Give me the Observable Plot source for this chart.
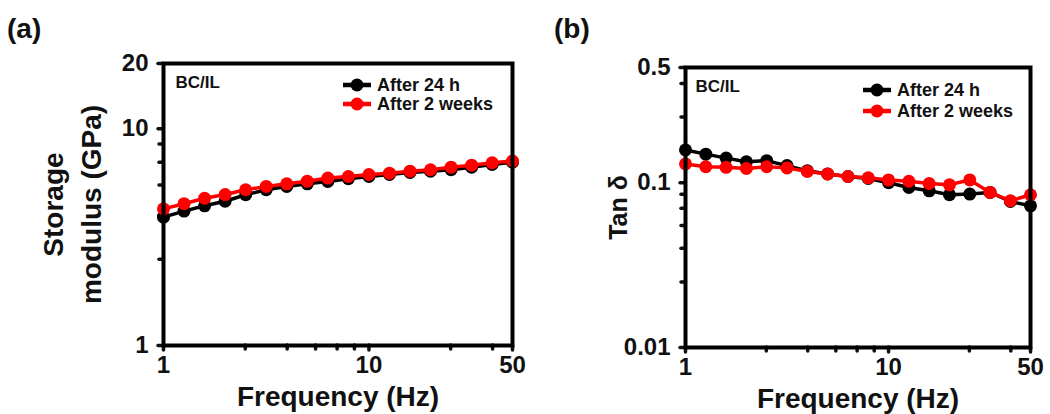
<!DOCTYPE html>
<html>
<head>
<meta charset="utf-8">
<script src="https://cdn.jsdelivr.net/npm/d3@7"></script>
<script src="https://cdn.jsdelivr.net/npm/@observablehq/plot@0.6"></script>
<style>
  body { margin: 0; background: #fff; font-family: "Liberation Sans", Arial, sans-serif; font-weight: bold; color: #111; }
  #wrap { position: relative; width: 1050px; height: 414px; overflow: hidden; }
  .panel { position: absolute; top: 0; }
  .tag { position: absolute; font-size: 28px; font-weight: bold; line-height: 1; color: #111; }
  .leg { position: absolute; font-size: 18px; font-weight: bold; line-height: 1; display: flex; align-items: center; white-space: nowrap; }
  .leg svg { margin-right: 6px; }
</style>
</head>
<body>
<div id="wrap">
  <div class="tag" style="left:7px; top:15px;">(a)</div>
  <div class="tag" style="left:554px; top:15px;">(b)</div>
  <div id="pa" class="panel" style="left:0px;"></div>
  <div id="pb" class="panel" style="left:525px;"></div>
</div>
<script>
// ---- data ----
const freq = [1, 1.259, 1.585, 1.995, 2.512, 3.162, 3.981, 5.012, 6.310, 7.943, 10, 12.59, 15.85, 19.95, 25.12, 31.62, 39.81, 50];
const storage24h = [3.91, 4.17, 4.41, 4.63, 4.96, 5.23, 5.42, 5.57, 5.71, 5.88, 6.02, 6.15, 6.29, 6.37, 6.47, 6.65, 6.84, 7.01];
const storage2w  = [4.27, 4.51, 4.78, 4.97, 5.23, 5.42, 5.57, 5.73, 5.92, 6.02, 6.15, 6.24, 6.37, 6.47, 6.65, 6.79, 6.97, 7.09];
const tan24h = [0.158, 0.149, 0.141, 0.134, 0.136, 0.127, 0.118, 0.113, 0.109, 0.106, 0.100, 0.0935, 0.0893, 0.0845, 0.0853, 0.0873, 0.0769, 0.0724];
const tan2w  = [0.130, 0.125, 0.124, 0.122, 0.125, 0.123, 0.117, 0.113, 0.109, 0.107, 0.104, 0.102, 0.0989, 0.0971, 0.104, 0.0873, 0.0777, 0.0845];
const seriesNames = ["After 24 h", "After 2 weeks"];
const seriesColors = ["#000000", "#ff0000"];
const xMajor = [1, 10, 50];
const xMinor = [2.5, 4, 5.5, 7, 8.5, 25, 40];
const yMajorA = [1, 10, 20];
const yMinorA = [2.5, 4, 5.5, 7, 8.5];
const yMajorB = [0.01, 0.1, 0.5];
const yMinorB = [0.025, 0.04, 0.055, 0.07, 0.085, 0.25, 0.4];
const sampleLabel = "BC/IL";

function rows(ys, name) { return freq.map((f, i) => ({f, v: ys[i], s: name})); }

const font = {fontFamily: "'Liberation Sans', Arial, sans-serif", fontWeight: "bold", overflow: "visible", background: "transparent", color: "#111"};

function panel(opts) {
  const {yDomain, yMajor, yMinor, s24, s2w, ylabel, ylabelDx, ylabelSize, margins, labelDx, labelDy} = opts;
  const d24 = rows(s24, seriesNames[0]);
  const d2w = rows(s2w, seriesNames[1]);
  return Plot.plot({
    width: 525, height: 414,
    ...margins,
    style: font,
    x: {type: "log", domain: [1, 50]},
    y: {type: "log", domain: yDomain},
    marks: [
      Plot.axisX({ticks: xMajor, tickFormat: d => String(d), tickSize: 5, tickPadding: 5, fontSize: 24, strokeWidth: 3.5, strokeLinecap: "round", label: null}),
      Plot.axisX({ticks: xMinor, tickFormat: () => "", tickSize: 4, strokeWidth: 3.5, strokeLinecap: "round", label: null}),
      Plot.axisY({ticks: yMajor, tickFormat: d => String(d), tickSize: 5, tickPadding: 10, fontSize: 24, strokeWidth: 3.5, strokeLinecap: "round", label: null}),
      Plot.axisY({ticks: yMinor, tickFormat: () => "", tickSize: 4, strokeWidth: 3.5, strokeLinecap: "round", label: null}),
      Plot.line(d24, {x: "f", y: "v", stroke: seriesColors[0], strokeWidth: 3.5}),
      Plot.dot(d24, {x: "f", y: "v", fill: seriesColors[0], r: 6.5}),
      Plot.line(d2w, {x: "f", y: "v", stroke: seriesColors[1], strokeWidth: 3.5}),
      Plot.dot(d2w, {x: "f", y: "v", fill: seriesColors[1], r: 6.5}),
      Plot.frame({stroke: "#000", strokeWidth: 4}),
      Plot.text([sampleLabel], {frameAnchor: "top-left", textAnchor: "start", lineAnchor: "middle", dx: labelDx, dy: labelDy, fontSize: 17, fill: "#111"}),
      Plot.text(["Frequency (Hz)"], {frameAnchor: "bottom", textAnchor: "middle", lineAnchor: "middle", dy: 52, fontSize: 28, fill: "#111"}),
      Plot.text([ylabel], {frameAnchor: "left", textAnchor: "middle", lineAnchor: "middle", rotate: -90, dx: ylabelDx, fontSize: ylabelSize, lineHeight: 1.36, fill: "#111"})
    ]
  });
}

document.getElementById("pa").appendChild(panel({
  yDomain: [1, 20], yMajor: yMajorA, yMinor: yMinorA,
  s24: storage24h, s2w: storage2w,
  ylabel: "Storage\nmodulus (GPa)", ylabelDx: -94, ylabelSize: 28,
  margins: {marginLeft: 163, marginRight: 13, marginTop: 63, marginBottom: 69},
  labelDx: 12, labelDy: 19
}));
document.getElementById("pb").appendChild(panel({
  yDomain: [0.01, 0.5], yMajor: yMajorB, yMinor: yMinorB,
  s24: tan24h, s2w: tan2w,
  ylabel: "Tan δ", ylabelDx: -69, ylabelSize: 25,
  margins: {marginLeft: 160, marginRight: 20, marginTop: 67, marginBottom: 67},
  labelDx: 10, labelDy: 19
}));

// legends (HTML overlay)
function legend(left, tops) {
  const wrap = document.getElementById("wrap");
  seriesNames.forEach((name, i) => {
    const div = document.createElement("div");
    div.className = "leg";
    div.style.left = left + "px";
    div.style.top = (tops[i] - 10) + "px";
    div.style.height = "20px";
    div.innerHTML = `<svg width="28" height="14"><line x1="0" y1="7" x2="28" y2="7" stroke="${seriesColors[i]}" stroke-width="4.5"/><circle cx="14" cy="7" r="6.5" fill="${seriesColors[i]}"/></svg><span style="color:#111">${name}</span>`;
    wrap.appendChild(div);
  });
}
legend(343, [85, 104]);
legend(863, [90, 111]);
</script>
</body>
</html>
